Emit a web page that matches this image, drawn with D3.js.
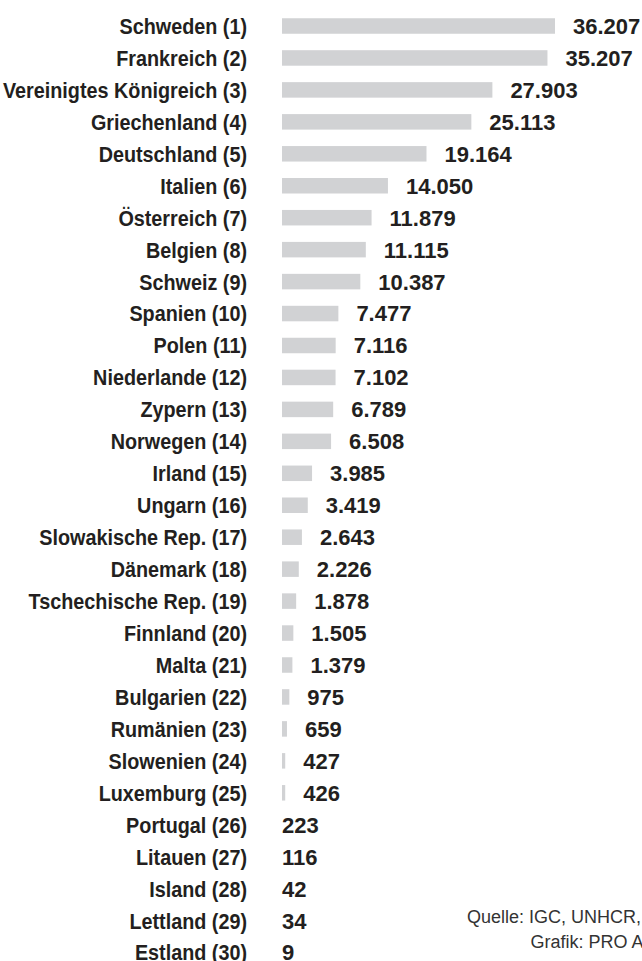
<!DOCTYPE html>
<html><head><meta charset="utf-8">
<script src="https://cdn.jsdelivr.net/npm/d3@7"></script>
<style>
html,body{margin:0;padding:0;background:#fff;overflow:hidden;}
svg{display:block;}
.lab{font-family:"Liberation Sans",Arial,sans-serif;font-weight:bold;font-size:22px;fill:#231f20;}
.val{font-family:"Liberation Sans",Arial,sans-serif;font-weight:bold;font-size:22px;fill:#231f20;}
.src{font-family:"Liberation Sans",Arial,sans-serif;font-size:18px;fill:#333333;}
</style></head>
<body>
<svg id="chart" width="642" height="961"></svg>
<script>
const countries = ["Schweden","Frankreich","Vereinigtes Königreich","Griechenland","Deutschland","Italien","Österreich","Belgien","Schweiz","Spanien","Polen","Niederlande","Zypern","Norwegen","Irland","Ungarn","Slowakische Rep.","Dänemark","Tschechische Rep.","Finnland","Malta","Bulgarien","Rumänien","Slowenien","Luxemburg","Portugal","Litauen","Island","Lettland","Estland"];
const values = [36207,35207,27903,25113,19164,14050,11879,11115,10387,7477,7116,7102,6789,6508,3985,3419,2643,2226,1878,1505,1379,975,659,427,426,223,116,42,34,9];
const sourceLines = ["Quelle: IGC, UNHCR, nationale Behörden","Grafik: PRO ASYL"];

const fmt = d3.formatLocale({decimal:",",thousands:".",grouping:[3],currency:["","€"]}).format(",d");
const data = countries.map((c,i)=>({name:c, rank:i+1, value:values[i]}));

const svg = d3.select("#chart");
const x0 = 282;
const x = d3.scaleLinear().domain([0, d3.max(values)]).range([0, 273]);
const y = d3.scalePoint().domain(countries).range([26, 26 + 29*31.95]);
const barH = 15.5;

const rows = svg.selectAll("g.row").data(data).join("g").attr("class","row")
  .attr("transform", d => `translate(0,${y(d.name)})`);

rows.filter(d => x(d.value) >= 2).append("rect")
  .attr("x", x0).attr("y", -barH/2)
  .attr("width", d => x(d.value)).attr("height", barH)
  .attr("fill", "#d1d2d4");

rows.append("text").attr("class","lab")
  .attr("transform","translate(247,0) scale(0.9,1)")
  .attr("x", 0).attr("y", 0).attr("dy","0.36em")
  .attr("text-anchor","end")
  .text(d => `${d.name} (${d.rank})`);

rows.append("text").attr("class","val")
  .attr("x", d => x(d.value) >= 2 ? x0 + x(d.value) + 18 : x0)
  .attr("y", 0).attr("dy","0.36em")
  .text(d => fmt(d.value));

svg.append("text").attr("class","src").attr("x",467).attr("y",923).text(sourceLines[0]);
svg.append("text").attr("class","src").attr("x",530.5).attr("y",948).text(sourceLines[1]);
</script>
</body></html>
